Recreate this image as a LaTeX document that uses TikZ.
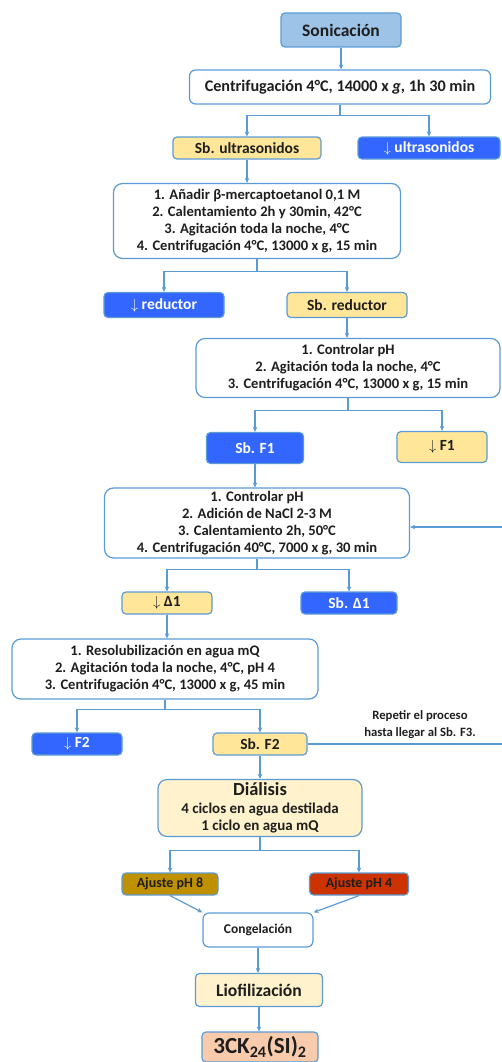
\documentclass[tikz,border=0pt]{standalone}
\usepackage{fontspec}
\setmainfont{Carlito}
\usepackage{tikz}
\usetikzlibrary{arrows.meta,calc,positioning}
\definecolor{lineblue}{RGB}{91,155,213}
\definecolor{sonicfill}{RGB}{157,195,230}
\definecolor{sbyellow}{RGB}{255,230,153}
\definecolor{pelblue}{RGB}{51,102,255}
\definecolor{paleyellow}{RGB}{255,242,204}
\definecolor{goldfill}{RGB}{191,144,0}
\definecolor{redfill}{RGB}{204,51,0}
\definecolor{peach}{RGB}{248,203,173}
\definecolor{darktext}{RGB}{30,30,30}

\begin{document}
\begin{tikzpicture}[>={Stealth[length=5pt,width=4.5pt]}, x=1pt, y=-1pt,
    base/.style={draw=lineblue, line width=1.2pt, rounded corners=4pt, align=center,
        text=darktext, inner sep=1pt, font=\bfseries\fontsize{15.5}{17}\selectfont},
    stepbox/.style={base, fill=white, rounded corners=9pt, font=\bfseries\fontsize{14.6}{17}\selectfont},
    sbbox/.style={base, fill=sbyellow},
    pelbox/.style={base, fill=pelblue, text=white},
    link/.style={->, draw=lineblue, line width=1.2pt}]
    \useasboundingbox (0,0) rectangle (501,1062);

    % inicio
    \node[base, fill=sonicfill, minimum width=120, minimum height=34,
        font=\bfseries\fontsize{17.5}{19}\selectfont] (soni) at (341,30) {Sonicación};
    \node[base, fill=white, rounded corners=6pt, minimum width=301, minimum height=34,
        font=\bfseries\fontsize{16.2}{18}\selectfont] (centri) at (340,87)
        {Centrifugación 4°C, 14000 x \textit{g}, 1h 30 min};

    % primera separacion
    \node[sbbox, minimum width=148, minimum height=22] (sbultra) at (247,148) {Sb. ultrasonidos};
    \node[pelbox, minimum width=142, minimum height=22] (pultra) at (429,148) {$\downarrow$ ultrasonidos};

    % tratamiento con reductor
    \node[stepbox, minimum width=287, minimum height=75] (paso1) at (257,221)
        {1. Añadir β-mercaptoetanol 0,1 M\\2. Calentamiento 2h y 30min, 42°C\\
         3. Agitación toda la noche, 4°C\\4. Centrifugación 4°C, 13000 x g, 15 min};
    \node[pelbox, minimum width=120, minimum height=25] (pred) at (164,305) {$\downarrow$ reductor};
    \node[sbbox, minimum width=120, minimum height=25] (sbred) at (347,305) {Sb. reductor};

    % fraccion F1
    \node[stepbox, minimum width=304, minimum height=59] (paso2) at (348,368)
        {1. Controlar pH\\2. Agitación toda la noche, 4°C\\3. Centrifugación 4°C, 13000 x g, 15 min};
    \node[pelbox, minimum width=97, minimum height=31] (sbf1) at (255,448) {Sb. F1};
    \node[sbbox, minimum width=90, minimum height=31] (pf1) at (442,447) {$\downarrow$ F1};

    % precipitacion con sal
    \node[stepbox, minimum width=305, minimum height=70] (paso3) at (257,523)
        {1. Controlar pH\\2. Adición de NaCl 2-3 M\\3. Calentamiento 2h, 50°C\\
         4. Centrifugación 40°C, 7000 x g, 30 min};
    \node[sbbox, minimum width=90, minimum height=22] (pd1) at (167,603) {$\downarrow$ Δ1};
    \node[pelbox, minimum width=96, minimum height=22] (sbd1) at (349,603) {Sb. Δ1};

    % fraccion F2
    \node[stepbox, minimum width=306, minimum height=60] (paso4) at (165,669)
        {1. Resolubilización en agua mQ\\2. Agitación toda la noche, 4°C, pH 4\\
         3. Centrifugación 4°C, 13000 x g, 45 min};
    \node[pelbox, minimum width=90, minimum height=22] (pf2) at (77,744) {$\downarrow$ F2};
    \node[sbbox, minimum width=94, minimum height=22] (sbf2) at (260,744) {Sb. F2};
    \node[align=center, text=darktext, font=\bfseries\fontsize{12.7}{17}\selectfont] (nota) at (420,725)
        {Repetir el proceso\\hasta llegar al Sb. F3.};
    \coordinate (ret) at (503,527);

    % dialisis y acabado
    \node[base, fill=paleyellow, rounded corners=9pt, minimum width=204, minimum height=57,
        font=\bfseries\fontsize{15}{17.5}\selectfont] (dial) at (260,808)
        {{\fontsize{18.5}{18}\selectfont Diálisis}\\4 ciclos en agua destilada\\1 ciclo en agua mQ};
    \node[base, fill=goldfill, minimum width=96, minimum height=22,
        font=\bfseries\fontsize{14}{16}\selectfont] (ph8) at (170,884) {Ajuste pH 8};
    \node[base, fill=redfill, minimum width=99, minimum height=22,
        font=\bfseries\fontsize{14}{16}\selectfont] (ph4) at (359,884) {Ajuste pH 4};
    \node[base, fill=white, rounded corners=6pt, minimum width=110, minimum height=34,
        font=\bfseries\fontsize{13.5}{15}\selectfont] (cong) at (258,930) {Congelación};
    \node[base, fill=paleyellow, minimum width=127, minimum height=33,
        font=\bfseries\fontsize{17.6}{19}\selectfont] (lio) at (259,990) {Liofilización};
    \node[base, fill=peach, minimum width=116, minimum height=30, inner sep=0pt,
        font=\bfseries\fontsize{23}{24}\selectfont] (prod) at (260,1047) {3CK\textsubscript{24}(SI)\textsubscript{2}};

    % conexiones
    \draw[link] (soni) -- (soni |- centri.north);
    \draw[link] (centri.south) -- ++(0,11) -| (sbultra.north);
    \draw[link] (centri.south) -- ++(0,11) -| (pultra.north);
    \draw[link] (sbultra) -- (sbultra |- paso1.north);
    \draw[link] (paso1.south) -- ++(0,12) -| (pred.north);
    \draw[link] (paso1.south) -- ++(0,12) -| (sbred.north);
    \draw[link] (sbred) -- (sbred |- paso2.north);
    \draw[link] (paso2.south) -- ++(0,12) -| (sbf1.north);
    \draw[link] (paso2.south) -- ++(0,12) -| (pf1.north);
    \draw[link] (sbf1) -- (sbf1 |- paso3.north);
    \draw[link] (paso3.south) -- ++(0,11) -| (pd1.north);
    \draw[link] (paso3.south) -- ++(0,11) -| (sbd1.north);
    \draw[link] (pd1) -- (pd1 |- paso4.north);
    \draw[link] (paso4.south) -- ++(0,10) -| (pf2.north);
    \draw[link] (paso4.south) -- ++(0,10) -| (sbf2.north);
    \draw[link] (sbf2.east) -| (ret) -- (ret -| paso3.east);
    \draw[link] (sbf2) -- (sbf2 |- dial.north);
    \draw[link] (dial.south) -- ++(0,13) -| (ph8.north);
    \draw[link] (dial.south) -- ++(0,13) -| (ph4.north);
    \draw[link] (ph8.south) -- (cong.north west);
    \draw[link] (ph4.south) -- (cong.north east);
    \draw[link] (cong) -- (cong |- lio.north);
    \draw[link] (lio) -- (lio |- prod.north);
\end{tikzpicture}
\end{document}
